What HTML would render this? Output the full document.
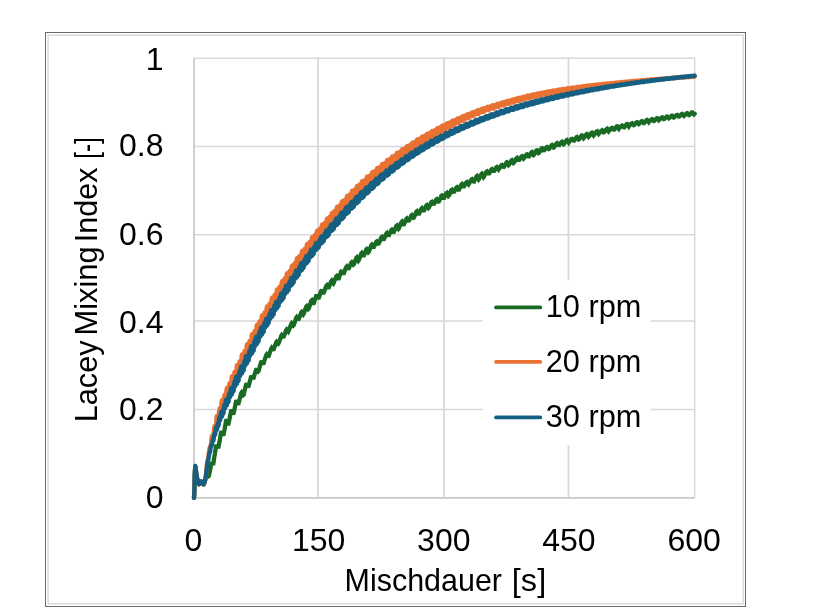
<!DOCTYPE html>
<html lang="de">
<head>
<meta charset="utf-8">
<title>Lacey Mixing Index</title>
<style>
html,body{margin:0;padding:0;background:#fff;}
body{width:835px;height:612px;overflow:hidden;}
svg{display:block;will-change:transform;}
.t{font-family:"Liberation Sans",sans-serif;font-size:32px;fill:#000;}
</style>
</head>
<body>
<svg width="835" height="612" viewBox="0 0 835 612">
<rect x="0" y="0" width="835" height="612" fill="#fff"/>
<rect x="45.5" y="32.5" width="700" height="574" fill="#fff" stroke="#6a6a6a" stroke-width="1"/>
<rect x="48.1" y="35.1" width="695.2" height="568.7" fill="none" stroke="#dcdcdc" stroke-width="1.6"/>
<line x1="318.05" y1="58.3" x2="318.05" y2="497.8" stroke="#D9D9D9" stroke-width="1.8"/>
<line x1="444.05" y1="58.3" x2="444.05" y2="497.8" stroke="#D9D9D9" stroke-width="1.8"/>
<line x1="568.45" y1="58.3" x2="568.45" y2="497.8" stroke="#D9D9D9" stroke-width="1.8"/>
<line x1="194.0" y1="409.60" x2="694.7" y2="409.60" stroke="#D9D9D9" stroke-width="1.5"/>
<line x1="194.0" y1="321.10" x2="694.7" y2="321.10" stroke="#D9D9D9" stroke-width="1.5"/>
<line x1="194.0" y1="234.85" x2="694.7" y2="234.85" stroke="#D9D9D9" stroke-width="1.5"/>
<line x1="194.0" y1="146.40" x2="694.7" y2="146.40" stroke="#D9D9D9" stroke-width="1.5"/>
<path d="M194.0 58.3 H694.7 V497.8" fill="none" stroke="#D9D9D9" stroke-width="1.5"/>
<path d="M194.0 58.3 V497.8 H694.7" fill="none" stroke="#C8C8C8" stroke-width="1.7"/>
<rect x="482.5" y="280.5" width="168" height="164.5" fill="#fff"/>
<path d="M194.0 497.8 L194.4 490.2 L194.8 473.0 L195.3 466.0 L195.7 468.4 L196.1 472.0 L196.5 474.9 L196.9 477.0 L197.3 479.1 L197.8 481.1 L198.2 482.8 L198.6 483.9 L199.0 484.2 L199.4 483.9 L199.8 483.2 L200.3 482.4 L200.7 481.7 L201.1 481.4 L201.5 481.6 L201.9 482.1 L202.3 482.8 L202.8 483.5 L203.2 484.1 L203.6 484.3 L204.0 483.9 L204.4 482.4 L204.8 480.5 L205.3 478.7 L205.7 477.5 L206.1 476.6 L206.5 476.0 L206.9 475.8 L207.4 475.9 L207.8 476.2 L208.2 476.5 L208.6 476.3 L209.0 474.9 L209.4 473.2 L209.9 471.1 L210.3 468.9 L210.7 466.4 L211.1 463.7 L211.5 462.0 L211.9 462.6 L212.4 463.4 L212.8 464.3 L213.2 465.1 L213.6 461.9 L214.0 459.1 L214.4 456.4 L214.9 453.8 L215.3 451.2 L215.7 448.7 L216.1 446.3 L216.5 445.0 L216.9 445.8 L217.4 446.5 L217.8 447.3 L218.2 448.1 L218.6 446.6 L219.0 444.2 L219.5 441.8 L219.9 439.4 L220.3 437.1 L220.7 434.7 L221.1 432.4 L221.5 431.3 L222.0 432.3 L222.4 433.3 L222.8 434.3 L223.2 435.3 L223.6 434.4 L224.0 432.0 L224.5 429.7 L224.9 427.4 L225.3 425.1 L225.7 422.8 L226.1 420.5 L226.5 419.5 L227.0 421.0 L227.4 422.4 L227.8 423.8 L228.2 425.3 L228.6 423.1 L229.0 421.1 L229.5 419.0 L229.9 417.0 L230.3 414.9 L230.7 412.9 L231.1 410.9 L231.6 410.0 L232.0 411.1 L232.4 412.3 L232.8 413.4 L233.2 414.4 L233.6 413.2 L234.1 411.2 L234.5 409.2 L234.9 407.2 L235.3 405.2 L235.7 403.3 L236.1 401.4 L236.6 400.6 L237.0 401.7 L237.4 402.8 L237.8 403.8 L238.2 404.9 L238.6 402.9 L239.1 401.3 L239.5 399.7 L239.9 398.1 L240.3 396.5 L240.7 394.9 L241.1 393.3 L241.6 392.6 L242.0 393.2 L242.4 393.9 L242.8 394.5 L243.2 395.1 L243.7 394.7 L244.1 392.9 L244.5 391.2 L244.9 389.4 L245.3 387.7 L245.7 386.0 L246.2 384.3 L246.6 383.6 L247.0 384.6 L247.4 385.5 L247.8 386.4 L248.2 387.2 L248.7 385.9 L249.1 384.3 L249.5 382.8 L249.9 381.2 L250.3 379.7 L250.7 378.2 L251.2 376.7 L251.6 376.0 L252.0 376.7 L252.4 377.5 L252.8 378.2 L253.2 379.0 L253.7 377.8 L254.1 376.3 L254.5 374.9 L254.9 373.5 L255.3 372.1 L255.8 370.8 L256.2 369.4 L256.6 368.7 L257.0 369.4 L257.4 370.0 L257.8 370.6 L258.3 371.2 L258.7 370.7 L259.1 369.2 L259.5 367.7 L259.9 366.2 L260.3 364.7 L260.8 363.2 L261.2 361.8 L261.6 361.2 L262.0 362.0 L262.4 362.8 L262.8 363.6 L263.3 364.4 L263.7 363.0 L264.1 361.7 L264.5 360.4 L264.9 359.1 L265.3 357.9 L265.8 356.6 L266.2 355.3 L266.6 354.7 L267.0 355.3 L267.4 355.9 L267.9 356.4 L268.3 357.0 L268.7 356.2 L269.1 354.9 L269.5 353.6 L269.9 352.4 L270.4 351.1 L270.8 349.8 L271.2 348.6 L271.6 348.0 L272.0 348.6 L272.4 349.2 L272.9 349.8 L273.3 350.4 L273.7 349.3 L274.1 348.1 L274.5 347.0 L274.9 345.8 L275.4 344.7 L275.8 343.6 L276.2 342.5 L276.6 341.9 L277.0 342.3 L277.5 342.8 L277.9 343.2 L278.3 343.6 L278.7 343.0 L279.1 341.9 L279.5 340.7 L280.0 339.5 L280.4 338.3 L280.8 337.2 L281.2 336.0 L281.6 335.4 L282.0 336.0 L282.5 336.5 L282.9 337.1 L283.3 337.7 L283.7 336.7 L284.1 335.6 L284.5 334.5 L285.0 333.4 L285.4 332.2 L285.8 331.1 L286.2 330.0 L286.6 329.5 L287.0 330.0 L287.5 330.5 L287.9 331.0 L288.3 331.5 L288.7 330.7 L289.1 329.6 L289.6 328.5 L290.0 327.3 L290.4 326.2 L290.8 325.1 L291.2 324.0 L291.6 323.4 L292.1 324.0 L292.5 324.5 L292.9 325.1 L293.3 325.6 L293.7 325.2 L294.1 324.0 L294.6 322.7 L295.0 321.5 L295.4 320.2 L295.8 319.0 L296.2 317.7 L296.6 317.2 L297.1 318.0 L297.5 318.8 L297.9 319.5 L298.3 320.3 L298.7 319.1 L299.1 318.0 L299.6 316.9 L300.0 315.8 L300.4 314.7 L300.8 313.6 L301.2 312.5 L301.7 312.0 L302.1 312.5 L302.5 313.1 L302.9 313.7 L303.3 314.3 L303.7 313.7 L304.2 312.5 L304.6 311.4 L305.0 310.2 L305.4 309.1 L305.8 307.9 L306.2 306.7 L306.7 306.2 L307.1 306.9 L307.5 307.6 L307.9 308.3 L308.3 309.0 L308.7 308.6 L309.2 307.3 L309.6 306.1 L310.0 304.8 L310.4 303.5 L310.8 302.2 L311.2 300.9 L311.7 300.4 L312.1 301.3 L312.5 302.3 L312.9 303.2 L313.3 304.1 L313.8 303.3 L314.2 302.0 L314.6 300.7 L315.0 299.4 L315.4 298.2 L315.8 296.9 L316.3 295.6 L316.7 295.1 L317.1 296.1 L317.5 297.0 L317.9 298.0 L318.3 298.9 L318.8 297.9 L319.2 296.7 L319.6 295.5 L320.0 294.3 L320.4 293.1 L320.8 291.9 L321.3 290.7 L321.7 290.2 L322.1 291.1 L322.5 291.9 L322.9 292.8 L323.3 293.6 L323.8 292.7 L324.2 291.5 L324.6 290.4 L325.0 289.3 L325.4 288.1 L325.9 287.0 L326.3 285.8 L326.7 285.4 L327.1 286.2 L327.5 286.9 L327.9 287.7 L328.4 288.5 L328.8 287.5 L329.2 286.4 L329.6 285.4 L330.0 284.3 L330.4 283.3 L330.9 282.2 L331.3 281.2 L331.7 280.7 L332.1 281.4 L332.5 282.0 L332.9 282.7 L333.4 283.3 L333.8 282.5 L334.2 281.5 L334.6 280.5 L335.0 279.5 L335.4 278.5 L335.9 277.4 L336.3 276.4 L336.7 276.0 L337.1 276.6 L337.5 277.2 L338.0 277.8 L338.4 278.4 L338.8 278.4 L339.2 277.1 L339.6 275.9 L340.0 274.7 L340.5 273.5 L340.9 272.3 L341.3 271.1 L341.7 270.6 L342.1 271.6 L342.5 272.6 L343.0 273.5 L343.4 274.5 L343.8 273.3 L344.2 272.3 L344.6 271.2 L345.0 270.1 L345.5 269.0 L345.9 267.9 L346.3 266.9 L346.7 266.5 L347.1 267.2 L347.5 268.0 L348.0 268.7 L348.4 269.5 L348.8 268.5 L349.2 267.5 L349.6 266.5 L350.1 265.6 L350.5 264.6 L350.9 263.7 L351.3 262.7 L351.7 262.3 L352.1 262.9 L352.6 263.5 L353.0 264.1 L353.4 264.7 L353.8 264.4 L354.2 263.3 L354.6 262.2 L355.1 261.2 L355.5 260.1 L355.9 259.0 L356.3 257.9 L356.7 257.5 L357.1 258.3 L357.6 259.1 L358.0 259.9 L358.4 260.7 L358.8 260.2 L359.2 259.0 L359.6 257.9 L360.1 256.8 L360.5 255.7 L360.9 254.6 L361.3 253.5 L361.7 253.1 L362.2 254.0 L362.6 254.8 L363.0 255.7 L363.4 256.6 L363.8 255.8 L364.2 254.7 L364.7 253.6 L365.1 252.6 L365.5 251.5 L365.9 250.5 L366.3 249.4 L366.7 249.1 L367.2 249.8 L367.6 250.6 L368.0 251.4 L368.4 252.2 L368.8 251.8 L369.2 250.7 L369.7 249.5 L370.1 248.4 L370.5 247.3 L370.9 246.2 L371.3 245.1 L371.7 244.7 L372.2 245.6 L372.6 246.5 L373.0 247.5 L373.4 248.4 L373.8 247.0 L374.3 246.1 L374.7 245.3 L375.1 244.4 L375.5 243.5 L375.9 242.6 L376.3 241.7 L376.8 241.4 L377.2 241.9 L377.6 242.5 L378.0 243.0 L378.4 243.6 L378.8 243.4 L379.3 242.4 L379.7 241.4 L380.1 240.4 L380.5 239.4 L380.9 238.4 L381.3 237.4 L381.8 237.0 L382.2 237.8 L382.6 238.6 L383.0 239.3 L383.4 240.1 L383.8 239.4 L384.3 238.4 L384.7 237.4 L385.1 236.5 L385.5 235.5 L385.9 234.5 L386.4 233.6 L386.8 233.2 L387.2 234.0 L387.6 234.7 L388.0 235.4 L388.4 236.1 L388.9 235.2 L389.3 234.4 L389.7 233.5 L390.1 232.7 L390.5 231.8 L390.9 230.9 L391.4 230.1 L391.8 229.8 L392.2 230.3 L392.6 230.9 L393.0 231.5 L393.4 232.0 L393.9 231.9 L394.3 230.9 L394.7 229.9 L395.1 228.9 L395.5 227.9 L395.9 226.9 L396.4 225.9 L396.8 225.6 L397.2 226.4 L397.6 227.2 L398.0 228.0 L398.5 228.8 L398.9 228.3 L399.3 227.3 L399.7 226.3 L400.1 225.2 L400.5 224.2 L401.0 223.2 L401.4 222.2 L401.8 221.8 L402.2 222.7 L402.6 223.6 L403.0 224.5 L403.5 225.3 L403.9 224.5 L404.3 223.5 L404.7 222.6 L405.1 221.6 L405.5 220.7 L406.0 219.7 L406.4 218.8 L406.8 218.5 L407.2 219.2 L407.6 220.0 L408.0 220.8 L408.5 221.6 L408.9 220.7 L409.3 219.9 L409.7 219.0 L410.1 218.1 L410.6 217.3 L411.0 216.4 L411.4 215.5 L411.8 215.2 L412.2 215.9 L412.6 216.5 L413.1 217.2 L413.5 217.8 L413.9 217.6 L414.3 216.7 L414.7 215.7 L415.1 214.7 L415.6 213.7 L416.0 212.7 L416.4 211.7 L416.8 211.4 L417.2 212.3 L417.6 213.1 L418.1 214.0 L418.5 214.9 L418.9 214.0 L419.3 213.1 L419.7 212.2 L420.1 211.3 L420.6 210.4 L421.0 209.5 L421.4 208.7 L421.8 208.3 L422.2 209.1 L422.7 209.8 L423.1 210.6 L423.5 211.3 L423.9 210.7 L424.3 209.8 L424.7 208.9 L425.2 208.1 L425.6 207.2 L426.0 206.3 L426.4 205.4 L426.8 205.1 L427.2 205.8 L427.7 206.6 L428.1 207.3 L428.5 208.0 L428.9 207.6 L429.3 206.7 L429.7 205.8 L430.2 204.8 L430.6 203.9 L431.0 203.0 L431.4 202.0 L431.8 201.8 L432.2 202.6 L432.7 203.4 L433.1 204.2 L433.5 205.0 L433.9 204.1 L434.3 203.3 L434.8 202.5 L435.2 201.7 L435.6 200.9 L436.0 200.1 L436.4 199.4 L436.8 199.1 L437.3 199.7 L437.7 200.3 L438.1 200.9 L438.5 201.5 L438.9 201.4 L439.3 200.5 L439.8 199.5 L440.2 198.6 L440.6 197.7 L441.0 196.8 L441.4 195.8 L441.8 195.6 L442.3 196.4 L442.7 197.2 L443.1 198.1 L443.5 198.9 L443.9 198.3 L444.4 197.4 L444.8 196.5 L445.2 195.6 L445.6 194.7 L446.0 193.8 L446.4 193.0 L446.9 192.7 L447.3 193.5 L447.7 194.3 L448.1 195.0 L448.5 195.8 L448.9 195.4 L449.4 194.5 L449.8 193.6 L450.2 192.7 L450.6 191.8 L451.0 190.9 L451.4 190.0 L451.9 189.7 L452.3 190.5 L452.7 191.4 L453.1 192.2 L453.5 193.0 L453.9 192.1 L454.4 191.3 L454.8 190.6 L455.2 189.8 L455.6 189.1 L456.0 188.3 L456.5 187.6 L456.9 187.3 L457.3 187.9 L457.7 188.5 L458.1 189.1 L458.5 189.7 L459.0 189.6 L459.4 188.7 L459.8 187.9 L460.2 187.0 L460.6 186.1 L461.0 185.3 L461.5 184.4 L461.9 184.1 L462.3 184.9 L462.7 185.8 L463.1 186.6 L463.5 187.4 L464.0 186.5 L464.4 185.8 L464.8 185.0 L465.2 184.3 L465.6 183.6 L466.0 182.8 L466.5 182.1 L466.9 181.9 L467.3 182.5 L467.7 183.1 L468.1 183.7 L468.6 184.3 L469.0 183.7 L469.4 183.0 L469.8 182.3 L470.2 181.6 L470.6 180.9 L471.1 180.2 L471.5 179.6 L471.9 179.3 L472.3 179.9 L472.7 180.4 L473.1 181.0 L473.6 181.5 L474.0 181.6 L474.4 180.7 L474.8 179.9 L475.2 179.0 L475.6 178.2 L476.1 177.3 L476.5 176.5 L476.9 176.2 L477.3 177.1 L477.7 177.9 L478.1 178.7 L478.6 179.5 L479.0 179.0 L479.4 178.2 L479.8 177.3 L480.2 176.5 L480.7 175.6 L481.1 174.8 L481.5 174.0 L481.9 173.7 L482.3 174.5 L482.7 175.4 L483.2 176.2 L483.6 177.0 L484.0 176.5 L484.4 175.7 L484.8 174.8 L485.2 174.0 L485.7 173.2 L486.1 172.3 L486.5 171.5 L486.9 171.3 L487.3 172.1 L487.7 172.9 L488.2 173.7 L488.6 174.5 L489.0 173.8 L489.4 173.1 L489.8 172.3 L490.2 171.6 L490.7 170.9 L491.1 170.1 L491.5 169.4 L491.9 169.2 L492.3 169.9 L492.8 170.5 L493.2 171.2 L493.6 171.9 L494.0 171.3 L494.4 170.6 L494.8 169.9 L495.3 169.2 L495.7 168.6 L496.1 167.9 L496.5 167.2 L496.9 167.0 L497.3 167.6 L497.8 168.2 L498.2 168.8 L498.6 169.4 L499.0 168.8 L499.4 168.2 L499.8 167.6 L500.3 167.0 L500.7 166.3 L501.1 165.7 L501.5 165.1 L501.9 164.9 L502.3 165.4 L502.8 165.9 L503.2 166.4 L503.6 166.9 L504.0 166.9 L504.4 166.2 L504.9 165.4 L505.3 164.7 L505.7 164.0 L506.1 163.2 L506.5 162.5 L506.9 162.3 L507.4 163.0 L507.8 163.7 L508.2 164.4 L508.6 165.1 L509.0 164.7 L509.4 164.0 L509.9 163.3 L510.3 162.5 L510.7 161.8 L511.1 161.0 L511.5 160.3 L511.9 160.1 L512.4 160.8 L512.8 161.6 L513.2 162.3 L513.6 163.0 L514.0 162.7 L514.4 161.9 L514.9 161.2 L515.3 160.4 L515.7 159.6 L516.1 158.9 L516.5 158.2 L517.0 157.9 L517.4 158.7 L517.8 159.5 L518.2 160.2 L518.6 161.0 L519.0 160.2 L519.5 159.6 L519.9 159.0 L520.3 158.3 L520.7 157.7 L521.1 157.1 L521.5 156.4 L522.0 156.2 L522.4 156.8 L522.8 157.4 L523.2 158.0 L523.6 158.6 L524.0 158.2 L524.5 157.5 L524.9 156.9 L525.3 156.3 L525.7 155.7 L526.1 155.1 L526.5 154.5 L527.0 154.3 L527.4 154.9 L527.8 155.4 L528.2 156.0 L528.6 156.5 L529.1 156.4 L529.5 155.7 L529.9 155.0 L530.3 154.3 L530.7 153.7 L531.1 153.0 L531.6 152.3 L532.0 152.1 L532.4 152.8 L532.8 153.5 L533.2 154.2 L533.6 154.9 L534.1 154.5 L534.5 153.8 L534.9 153.1 L535.3 152.4 L535.7 151.7 L536.1 151.0 L536.6 150.3 L537.0 150.2 L537.4 150.9 L537.8 151.6 L538.2 152.4 L538.6 153.1 L539.1 152.8 L539.5 152.0 L539.9 151.3 L540.3 150.6 L540.7 149.9 L541.2 149.2 L541.6 148.4 L542.0 148.3 L542.4 149.0 L542.8 149.8 L543.2 150.6 L543.7 151.3 L544.1 150.5 L544.5 149.9 L544.9 149.4 L545.3 148.8 L545.7 148.2 L546.2 147.7 L546.6 147.1 L547.0 147.0 L547.4 147.5 L547.8 148.0 L548.2 148.5 L548.7 149.0 L549.1 148.9 L549.5 148.3 L549.9 147.6 L550.3 147.0 L550.7 146.4 L551.2 145.8 L551.6 145.2 L552.0 145.0 L552.4 145.6 L552.8 146.3 L553.3 146.9 L553.7 147.5 L554.1 147.3 L554.5 146.7 L554.9 146.0 L555.3 145.3 L555.8 144.6 L556.2 144.0 L556.6 143.3 L557.0 143.1 L557.4 143.8 L557.8 144.6 L558.3 145.3 L558.7 146.0 L559.1 145.4 L559.5 144.8 L559.9 144.2 L560.3 143.6 L560.8 143.1 L561.2 142.5 L561.6 141.9 L562.0 141.7 L562.4 142.3 L562.8 142.9 L563.3 143.5 L563.7 144.1 L564.1 143.8 L564.5 143.2 L564.9 142.6 L565.4 142.0 L565.8 141.4 L566.2 140.8 L566.6 140.2 L567.0 140.0 L567.4 140.7 L567.9 141.3 L568.3 141.9 L568.7 142.5 L569.1 141.9 L569.5 141.4 L569.9 140.9 L570.4 140.4 L570.8 139.9 L571.2 139.4 L571.6 138.9 L572.0 138.8 L572.4 139.3 L572.9 139.7 L573.3 140.2 L573.7 140.7 L574.1 140.7 L574.5 140.1 L574.9 139.5 L575.4 138.9 L575.8 138.3 L576.2 137.7 L576.6 137.1 L577.0 136.9 L577.5 137.6 L577.9 138.2 L578.3 138.9 L578.7 139.5 L579.1 139.3 L579.5 138.6 L580.0 138.0 L580.4 137.4 L580.8 136.8 L581.2 136.1 L581.6 135.5 L582.0 135.4 L582.5 136.1 L582.9 136.8 L583.3 137.5 L583.7 138.2 L584.1 137.8 L584.5 137.1 L585.0 136.5 L585.4 135.9 L585.8 135.3 L586.2 134.7 L586.6 134.1 L587.0 134.0 L587.5 134.7 L587.9 135.3 L588.3 136.0 L588.7 136.7 L589.1 136.3 L589.6 135.7 L590.0 135.1 L590.4 134.5 L590.8 133.9 L591.2 133.3 L591.6 132.7 L592.1 132.6 L592.5 133.3 L592.9 133.9 L593.3 134.6 L593.7 135.3 L594.1 134.8 L594.6 134.3 L595.0 133.7 L595.4 133.2 L595.8 132.6 L596.2 132.0 L596.6 131.5 L597.1 131.3 L597.5 132.0 L597.9 132.6 L598.3 133.2 L598.7 133.8 L599.1 133.3 L599.6 132.8 L600.0 132.3 L600.4 131.8 L600.8 131.3 L601.2 130.9 L601.7 130.4 L602.1 130.2 L602.5 130.8 L602.9 131.3 L603.3 131.8 L603.7 132.3 L604.2 132.2 L604.6 131.7 L605.0 131.1 L605.4 130.5 L605.8 130.0 L606.2 129.4 L606.7 128.9 L607.1 128.7 L607.5 129.4 L607.9 130.0 L608.3 130.6 L608.7 131.3 L609.2 130.7 L609.6 130.2 L610.0 129.8 L610.4 129.3 L610.8 128.8 L611.2 128.4 L611.7 127.9 L612.1 127.8 L612.5 128.3 L612.9 128.8 L613.3 129.2 L613.8 129.7 L614.2 129.7 L614.6 129.2 L615.0 128.6 L615.4 128.1 L615.8 127.5 L616.3 126.9 L616.7 126.4 L617.1 126.3 L617.5 126.9 L617.9 127.6 L618.3 128.2 L618.8 128.8 L619.2 128.2 L619.6 127.8 L620.0 127.3 L620.4 126.9 L620.8 126.5 L621.3 126.0 L621.7 125.6 L622.1 125.5 L622.5 125.9 L622.9 126.4 L623.4 126.8 L623.8 127.3 L624.2 127.4 L624.6 126.8 L625.0 126.3 L625.4 125.7 L625.9 125.2 L626.3 124.6 L626.7 124.1 L627.1 124.0 L627.5 124.6 L627.9 125.3 L628.4 125.9 L628.8 126.5 L629.2 125.9 L629.6 125.5 L630.0 125.1 L630.4 124.6 L630.9 124.2 L631.3 123.8 L631.7 123.3 L632.1 123.2 L632.5 123.7 L632.9 124.1 L633.4 124.6 L633.8 125.1 L634.2 124.9 L634.6 124.5 L635.0 124.0 L635.5 123.5 L635.9 123.1 L636.3 122.6 L636.7 122.2 L637.1 122.1 L637.5 122.6 L638.0 123.1 L638.4 123.6 L638.8 124.1 L639.2 123.8 L639.6 123.4 L640.0 122.9 L640.5 122.5 L640.9 122.1 L641.3 121.6 L641.7 121.2 L642.1 121.1 L642.5 121.6 L643.0 122.1 L643.4 122.6 L643.8 123.1 L644.2 123.0 L644.6 122.5 L645.0 122.0 L645.5 121.5 L645.9 121.0 L646.3 120.5 L646.7 120.0 L647.1 119.9 L647.6 120.5 L648.0 121.1 L648.4 121.6 L648.8 122.2 L649.2 121.7 L649.6 121.3 L650.1 120.9 L650.5 120.5 L650.9 120.1 L651.3 119.7 L651.7 119.3 L652.1 119.2 L652.6 119.6 L653.0 120.1 L653.4 120.5 L653.8 121.0 L654.2 120.9 L654.6 120.4 L655.1 120.0 L655.5 119.5 L655.9 119.1 L656.3 118.7 L656.7 118.3 L657.1 118.2 L657.6 118.7 L658.0 119.2 L658.4 119.7 L658.8 120.2 L659.2 119.8 L659.7 119.4 L660.1 119.0 L660.5 118.6 L660.9 118.3 L661.3 117.9 L661.7 117.5 L662.2 117.4 L662.6 117.9 L663.0 118.3 L663.4 118.7 L663.8 119.1 L664.2 119.0 L664.7 118.6 L665.1 118.2 L665.5 117.8 L665.9 117.4 L666.3 117.0 L666.7 116.6 L667.2 116.5 L667.6 116.9 L668.0 117.4 L668.4 117.9 L668.8 118.3 L669.2 118.1 L669.7 117.7 L670.1 117.3 L670.5 116.9 L670.9 116.5 L671.3 116.1 L671.8 115.6 L672.2 115.6 L672.6 116.1 L673.0 116.5 L673.4 117.0 L673.8 117.5 L674.3 117.2 L674.7 116.8 L675.1 116.4 L675.5 116.1 L675.9 115.7 L676.3 115.3 L676.8 115.0 L677.2 114.9 L677.6 115.3 L678.0 115.7 L678.4 116.1 L678.8 116.5 L679.3 116.5 L679.7 116.1 L680.1 115.7 L680.5 115.2 L680.9 114.8 L681.3 114.4 L681.8 114.0 L682.2 113.9 L682.6 114.4 L683.0 114.9 L683.4 115.5 L683.9 116.0 L684.3 115.6 L684.7 115.3 L685.1 114.9 L685.5 114.5 L685.9 114.1 L686.4 113.7 L686.8 113.3 L687.2 113.2 L687.6 113.7 L688.0 114.2 L688.4 114.6 L688.9 115.1 L689.3 115.0 L689.7 114.6 L690.1 114.1 L690.5 113.7 L690.9 113.3 L691.4 112.9 L691.8 112.4 L692.2 112.4 L692.6 112.9 L693.0 113.4 L693.4 114.0 L693.9 114.5 L694.3 114.2 L694.7 113.8" fill="none" stroke="#196B24" stroke-width="4.3" stroke-linejoin="miter" stroke-miterlimit="1.9" stroke-linecap="round"/>
<path d="M194.0 497.8 L194.4 490.2 L194.8 473.0 L195.3 466.0 L195.7 468.5 L196.1 472.0 L196.5 474.9 L196.9 477.0 L197.3 479.1 L197.8 481.2 L198.2 482.8 L198.6 483.9 L199.0 484.2 L199.4 483.8 L199.8 483.2 L200.3 482.6 L200.7 482.0 L201.1 481.6 L201.5 481.6 L201.9 482.0 L202.3 482.8 L202.8 483.7 L203.2 484.3 L203.6 484.4 L204.0 483.9 L204.4 482.9 L204.8 481.5 L205.3 479.9 L205.7 477.9 L206.1 474.2 L206.5 468.5 L206.9 463.7 L207.4 461.1 L207.8 459.6 L208.2 457.8 L208.6 454.8 L209.0 451.4 L209.4 448.6 L209.9 447.3 L210.3 446.9 L210.7 445.6 L211.1 442.3 L211.5 438.2 L211.9 436.0 L212.4 436.2 L212.8 437.6 L213.2 437.3 L213.6 433.8 L214.0 429.1 L214.4 426.2 L214.9 426.4 L215.3 428.0 L215.7 427.6 L216.1 423.5 L216.5 418.0 L216.9 415.9 L217.4 417.9 L217.8 421.6 L218.2 422.3 L218.6 417.9 L219.0 411.7 L219.5 408.4 L219.9 409.9 L220.3 413.0 L220.7 413.1 L221.1 408.4 L221.5 402.0 L222.0 400.2 L222.4 403.3 L222.8 408.4 L223.2 409.6 L223.6 404.8 L224.0 398.2 L224.5 394.9 L224.9 396.9 L225.3 400.7 L225.7 401.1 L226.1 396.2 L226.5 389.3 L227.0 387.6 L227.4 391.3 L227.8 397.1 L228.2 398.7 L228.6 393.6 L229.0 386.5 L229.5 383.1 L229.9 385.4 L230.3 389.8 L230.7 390.5 L231.1 385.2 L231.6 377.8 L232.0 376.1 L232.4 380.4 L232.8 386.9 L233.2 388.7 L233.6 383.3 L234.1 375.7 L234.5 372.0 L234.9 374.7 L235.3 379.7 L235.7 380.5 L236.1 374.8 L236.6 366.9 L237.0 365.1 L237.4 369.8 L237.8 376.7 L238.2 378.6 L238.6 373.0 L239.1 365.0 L239.5 361.3 L239.9 364.1 L240.3 369.2 L240.7 370.0 L241.1 364.3 L241.6 356.3 L242.0 354.5 L242.4 359.3 L242.8 366.3 L243.2 368.3 L243.7 362.6 L244.1 354.6 L244.5 350.9 L244.9 353.8 L245.3 358.9 L245.7 359.8 L246.2 354.0 L246.6 346.0 L247.0 344.2 L247.4 349.1 L247.8 356.2 L248.2 358.3 L248.7 352.5 L249.1 344.5 L249.5 340.8 L249.9 343.7 L250.3 348.9 L250.7 349.8 L251.2 344.1 L251.6 336.0 L252.0 334.2 L252.4 339.2 L252.8 346.4 L253.2 348.5 L253.7 342.7 L254.1 334.6 L254.5 331.0 L254.9 333.9 L255.3 339.1 L255.8 340.0 L256.2 334.3 L256.6 326.4 L257.0 324.7 L257.4 329.5 L257.8 336.6 L258.3 338.6 L258.7 333.0 L259.1 325.1 L259.5 321.5 L259.9 324.4 L260.3 329.5 L260.8 330.4 L261.2 324.8 L261.6 317.1 L262.0 315.4 L262.4 320.2 L262.8 327.1 L263.3 329.1 L263.7 323.6 L264.1 315.9 L264.5 312.4 L264.9 315.2 L265.3 320.2 L265.8 321.1 L266.2 315.7 L266.6 308.1 L267.0 306.5 L267.4 311.1 L267.9 317.9 L268.3 319.8 L268.7 314.5 L269.1 307.0 L269.5 303.6 L269.9 306.3 L270.4 311.2 L270.8 312.0 L271.2 306.8 L271.6 299.4 L272.0 297.8 L272.4 302.4 L272.9 308.9 L273.3 310.8 L273.7 305.6 L274.1 298.3 L274.5 295.0 L274.9 297.7 L275.4 302.5 L275.8 303.3 L276.2 298.1 L276.6 291.0 L277.0 289.4 L277.5 293.8 L277.9 300.3 L278.3 302.2 L278.7 297.1 L279.1 289.9 L279.5 286.7 L280.0 289.4 L280.4 294.0 L280.8 294.9 L281.2 289.8 L281.6 282.7 L282.0 281.2 L282.5 285.6 L282.9 292.0 L283.3 293.9 L283.7 288.9 L284.1 281.8 L284.5 278.6 L285.0 281.3 L285.4 285.9 L285.8 286.8 L286.2 281.8 L286.6 274.7 L287.0 273.3 L287.5 277.6 L287.9 284.0 L288.3 285.9 L288.7 280.9 L289.1 273.9 L289.6 270.8 L290.0 273.4 L290.4 278.1 L290.8 278.9 L291.2 274.0 L291.6 267.0 L292.1 265.6 L292.5 269.9 L292.9 276.3 L293.3 278.2 L293.7 273.3 L294.1 266.3 L294.6 263.2 L295.0 265.8 L295.4 270.5 L295.8 271.4 L296.2 266.4 L296.6 259.5 L297.1 258.1 L297.5 262.5 L297.9 268.8 L298.3 270.7 L298.7 265.8 L299.1 259.0 L299.6 255.9 L300.0 258.5 L300.4 263.1 L300.8 264.0 L301.2 259.2 L301.7 252.3 L302.1 251.0 L302.5 255.3 L302.9 261.6 L303.3 263.4 L303.7 258.6 L304.2 251.8 L304.6 248.8 L305.0 251.4 L305.4 256.0 L305.8 256.9 L306.2 252.1 L306.7 245.4 L307.1 244.0 L307.5 248.3 L307.9 254.5 L308.3 256.3 L308.7 251.6 L309.2 244.9 L309.6 241.9 L310.0 244.5 L310.4 249.0 L310.8 249.9 L311.2 245.2 L311.7 238.6 L312.1 237.2 L312.5 241.5 L312.9 247.6 L313.3 249.4 L313.8 244.8 L314.2 238.2 L314.6 235.2 L315.0 237.8 L315.4 242.3 L315.8 243.2 L316.3 238.5 L316.7 232.0 L317.1 230.7 L317.5 234.9 L317.9 241.0 L318.3 242.8 L318.8 238.3 L319.2 231.8 L319.6 228.9 L320.0 231.5 L320.4 235.9 L320.8 236.8 L321.3 232.2 L321.7 225.8 L322.1 224.5 L322.5 228.7 L322.9 234.7 L323.3 236.6 L323.8 232.0 L324.2 225.6 L324.6 222.8 L325.0 225.3 L325.4 229.8 L325.9 230.6 L326.3 226.1 L326.7 219.7 L327.1 218.5 L327.5 222.6 L327.9 228.6 L328.4 230.5 L328.8 226.0 L329.2 219.6 L329.6 216.8 L330.0 219.3 L330.4 223.7 L330.9 224.6 L331.3 220.1 L331.7 213.8 L332.1 212.6 L332.5 216.7 L332.9 222.7 L333.4 224.5 L333.8 220.0 L334.2 213.7 L334.6 210.9 L335.0 213.5 L335.4 217.9 L335.9 218.8 L336.3 214.3 L336.7 208.0 L337.1 206.8 L337.5 210.9 L338.0 216.9 L338.4 218.7 L338.8 214.3 L339.2 208.0 L339.6 205.3 L340.0 207.8 L340.5 212.2 L340.9 213.1 L341.3 208.7 L341.7 202.5 L342.1 201.3 L342.5 205.4 L343.0 211.3 L343.4 213.1 L343.8 208.8 L344.2 202.6 L344.6 199.8 L345.0 202.4 L345.5 206.7 L345.9 207.6 L346.3 203.3 L346.7 197.1 L347.1 195.9 L347.5 200.0 L348.0 205.9 L348.4 207.8 L348.8 203.4 L349.2 197.3 L349.6 194.6 L350.1 197.1 L350.5 201.4 L350.9 202.3 L351.3 198.0 L351.7 192.0 L352.1 190.8 L352.6 194.9 L353.0 200.7 L353.4 202.5 L353.8 198.2 L354.2 192.2 L354.6 189.6 L355.1 192.1 L355.5 196.3 L355.9 197.2 L356.3 193.0 L356.7 187.0 L357.1 185.9 L357.6 189.9 L358.0 195.6 L358.4 197.3 L358.8 193.2 L359.2 187.3 L359.6 184.7 L360.1 187.2 L360.5 191.3 L360.9 192.2 L361.3 188.1 L361.7 182.3 L362.2 181.2 L362.6 185.1 L363.0 190.7 L363.4 192.4 L363.8 188.3 L364.2 182.6 L364.7 180.1 L365.1 182.5 L365.5 186.5 L365.9 187.4 L366.3 183.4 L366.7 177.7 L367.2 176.6 L367.6 180.4 L368.0 185.9 L368.4 187.6 L368.8 183.7 L369.2 178.0 L369.7 175.6 L370.1 177.9 L370.5 181.9 L370.9 182.8 L371.3 178.8 L371.7 173.3 L372.2 172.3 L372.6 176.0 L373.0 181.3 L373.4 183.0 L373.8 179.1 L374.3 173.6 L374.7 171.2 L375.1 173.5 L375.5 177.4 L375.9 178.2 L376.3 174.4 L376.8 169.0 L377.2 168.1 L377.6 171.7 L378.0 176.8 L378.4 178.4 L378.8 174.7 L379.3 169.4 L379.7 167.1 L380.1 169.3 L380.5 173.0 L380.9 173.8 L381.3 170.1 L381.8 165.0 L382.2 164.0 L382.6 167.5 L383.0 172.4 L383.4 174.0 L383.8 170.4 L384.3 165.3 L384.7 163.1 L385.1 165.2 L385.5 168.8 L385.9 169.5 L386.4 166.0 L386.8 161.0 L387.2 160.1 L387.6 163.5 L388.0 168.2 L388.4 169.7 L388.9 166.2 L389.3 161.3 L389.7 159.2 L390.1 161.2 L390.5 164.7 L390.9 165.4 L391.4 162.0 L391.8 157.3 L392.2 156.4 L392.6 159.6 L393.0 164.1 L393.4 165.5 L393.9 162.2 L394.3 157.5 L394.7 155.5 L395.1 157.4 L395.5 160.7 L395.9 161.4 L396.4 158.2 L396.8 153.6 L397.2 152.8 L397.6 155.8 L398.0 160.2 L398.5 161.5 L398.9 158.4 L399.3 153.9 L399.7 151.9 L400.1 153.8 L400.5 156.9 L401.0 157.6 L401.4 154.5 L401.8 150.1 L402.2 149.3 L402.6 152.2 L403.0 156.4 L403.5 157.7 L403.9 154.6 L404.3 150.3 L404.7 148.5 L405.1 150.3 L405.5 153.3 L406.0 153.9 L406.4 150.9 L406.8 146.7 L407.2 145.9 L407.6 148.7 L408.0 152.8 L408.5 154.0 L408.9 151.1 L409.3 146.9 L409.7 145.1 L410.1 146.8 L410.6 149.8 L411.0 150.4 L411.4 147.5 L411.8 143.4 L412.2 142.7 L412.6 145.4 L413.1 149.3 L413.5 150.5 L413.9 147.7 L414.3 143.6 L414.7 141.9 L415.1 143.6 L415.6 146.4 L416.0 147.0 L416.4 144.2 L416.8 140.3 L417.2 139.5 L417.6 142.2 L418.1 146.0 L418.5 147.2 L418.9 144.4 L419.3 140.5 L419.7 138.8 L420.1 140.4 L420.6 143.2 L421.0 143.8 L421.4 141.1 L421.8 137.2 L422.2 136.5 L422.7 139.1 L423.1 142.8 L423.5 143.9 L423.9 141.2 L424.3 137.5 L424.7 135.8 L425.2 137.4 L425.6 140.1 L426.0 140.6 L426.4 138.0 L426.8 134.3 L427.2 133.7 L427.7 136.1 L428.1 139.7 L428.5 140.7 L428.9 138.2 L429.3 134.5 L429.7 133.0 L430.2 134.5 L430.6 137.0 L431.0 137.5 L431.4 135.0 L431.8 131.5 L432.2 130.9 L432.7 133.2 L433.1 136.5 L433.5 137.5 L433.9 135.1 L434.3 131.7 L434.8 130.2 L435.2 131.6 L435.6 133.9 L436.0 134.4 L436.4 132.1 L436.8 128.8 L437.3 128.2 L437.7 130.4 L438.1 133.4 L438.5 134.3 L438.9 132.1 L439.3 128.9 L439.8 127.5 L440.2 128.8 L440.6 131.0 L441.0 131.4 L441.4 129.3 L441.8 126.2 L442.3 125.6 L442.7 127.6 L443.1 130.5 L443.5 131.3 L443.9 129.2 L444.4 126.3 L444.8 125.0 L445.2 126.2 L445.6 128.2 L446.0 128.6 L446.4 126.6 L446.9 123.7 L447.3 123.2 L447.7 125.0 L448.1 127.7 L448.5 128.5 L448.9 126.5 L449.4 123.7 L449.8 122.5 L450.2 123.6 L450.6 125.5 L451.0 125.9 L451.4 124.0 L451.9 121.3 L452.3 120.8 L452.7 122.5 L453.1 125.0 L453.5 125.8 L453.9 123.9 L454.4 121.3 L454.8 120.2 L455.2 121.2 L455.6 123.0 L456.0 123.3 L456.5 121.5 L456.9 119.0 L457.3 118.5 L457.7 120.2 L458.1 122.5 L458.5 123.2 L459.0 121.4 L459.4 119.0 L459.8 117.9 L460.2 118.9 L460.6 120.6 L461.0 120.9 L461.5 119.2 L461.9 116.8 L462.3 116.4 L462.7 117.9 L463.1 120.1 L463.5 120.7 L464.0 119.1 L464.4 116.8 L464.8 115.8 L465.2 116.7 L465.6 118.2 L466.0 118.5 L466.5 117.0 L466.9 114.8 L467.3 114.3 L467.7 115.7 L468.1 117.7 L468.6 118.3 L469.0 116.8 L469.4 114.7 L469.8 113.7 L470.2 114.6 L470.6 116.0 L471.1 116.3 L471.5 114.8 L471.9 112.7 L472.3 112.3 L472.7 113.6 L473.1 115.5 L473.6 116.0 L474.0 114.6 L474.4 112.6 L474.8 111.8 L475.2 112.5 L475.6 113.8 L476.1 114.1 L476.5 112.7 L476.9 110.8 L477.3 110.4 L477.7 111.6 L478.1 113.4 L478.6 113.9 L479.0 112.5 L479.4 110.7 L479.8 109.9 L480.2 110.6 L480.7 111.8 L481.1 112.1 L481.5 110.8 L481.9 109.0 L482.3 108.6 L482.7 109.8 L483.2 111.5 L483.6 112.0 L484.0 110.7 L484.4 108.9 L484.8 108.1 L485.2 108.8 L485.7 110.0 L486.1 110.3 L486.5 109.0 L486.9 107.3 L487.3 106.9 L487.7 108.1 L488.2 109.7 L488.6 110.2 L489.0 109.0 L489.4 107.2 L489.8 106.5 L490.2 107.2 L490.7 108.4 L491.1 108.6 L491.5 107.4 L491.9 105.7 L492.3 105.3 L492.8 106.5 L493.2 108.1 L493.6 108.6 L494.0 107.4 L494.4 105.7 L494.8 104.9 L495.3 105.6 L495.7 106.8 L496.1 107.0 L496.5 105.8 L496.9 104.1 L497.3 103.8 L497.8 104.9 L498.2 106.5 L498.6 107.0 L499.0 105.8 L499.4 104.1 L499.8 103.4 L500.3 104.1 L500.7 105.2 L501.1 105.5 L501.5 104.3 L501.9 102.6 L502.3 102.3 L502.8 103.4 L503.2 105.0 L503.6 105.5 L504.0 104.3 L504.4 102.6 L504.9 101.9 L505.3 102.6 L505.7 103.7 L506.1 104.0 L506.5 102.8 L506.9 101.2 L507.4 100.9 L507.8 101.9 L508.2 103.5 L508.6 104.0 L509.0 102.8 L509.4 101.2 L509.9 100.5 L510.3 101.1 L510.7 102.3 L511.1 102.5 L511.5 101.4 L511.9 99.8 L512.4 99.5 L512.8 100.5 L513.2 102.1 L513.6 102.6 L514.0 101.4 L514.4 99.8 L514.9 99.1 L515.3 99.8 L515.7 100.9 L516.1 101.1 L516.5 100.0 L517.0 98.4 L517.4 98.1 L517.8 99.2 L518.2 100.7 L518.6 101.2 L519.0 100.1 L519.5 98.5 L519.9 97.8 L520.3 98.5 L520.7 99.6 L521.1 99.8 L521.5 98.7 L522.0 97.2 L522.4 96.9 L522.8 97.9 L523.2 99.4 L523.6 99.9 L524.0 98.8 L524.5 97.2 L524.9 96.6 L525.3 97.2 L525.7 98.3 L526.1 98.5 L526.5 97.5 L527.0 95.9 L527.4 95.6 L527.8 96.7 L528.2 98.2 L528.6 98.6 L529.1 97.6 L529.5 96.0 L529.9 95.4 L530.3 96.0 L530.7 97.1 L531.1 97.3 L531.6 96.3 L532.0 94.8 L532.4 94.5 L532.8 95.5 L533.2 97.0 L533.6 97.4 L534.1 96.4 L534.5 94.9 L534.9 94.2 L535.3 94.9 L535.7 96.0 L536.1 96.2 L536.6 95.1 L537.0 93.7 L537.4 93.4 L537.8 94.4 L538.2 95.8 L538.6 96.3 L539.1 95.3 L539.5 93.8 L539.9 93.2 L540.3 93.8 L540.7 94.9 L541.2 95.1 L541.6 94.1 L542.0 92.7 L542.4 92.4 L542.8 93.4 L543.2 94.8 L543.7 95.2 L544.1 94.2 L544.5 92.8 L544.9 92.2 L545.3 92.8 L545.7 93.8 L546.2 94.0 L546.6 93.1 L547.0 91.7 L547.4 91.5 L547.8 92.4 L548.2 93.7 L548.7 94.1 L549.1 93.2 L549.5 91.9 L549.9 91.3 L550.3 91.9 L550.7 92.8 L551.2 93.0 L551.6 92.1 L552.0 90.8 L552.4 90.6 L552.8 91.5 L553.3 92.7 L553.7 93.1 L554.1 92.3 L554.5 91.0 L554.9 90.5 L555.3 91.0 L555.8 91.9 L556.2 92.1 L556.6 91.2 L557.0 90.0 L557.4 89.8 L557.8 90.6 L558.3 91.8 L558.7 92.2 L559.1 91.3 L559.5 90.2 L559.9 89.6 L560.3 90.2 L560.8 91.0 L561.2 91.2 L561.6 90.4 L562.0 89.2 L562.4 89.0 L562.8 89.8 L563.3 90.9 L563.7 91.3 L564.1 90.5 L564.5 89.3 L564.9 88.9 L565.4 89.3 L565.8 90.2 L566.2 90.3 L566.6 89.6 L567.0 88.5 L567.4 88.3 L567.9 89.0 L568.3 90.1 L568.7 90.4 L569.1 89.6 L569.5 88.6 L569.9 88.1 L570.4 88.6 L570.8 89.3 L571.2 89.5 L571.6 88.8 L572.0 87.7 L572.4 87.5 L572.9 88.2 L573.3 89.3 L573.7 89.6 L574.1 88.9 L574.5 87.8 L574.9 87.4 L575.4 87.8 L575.8 88.6 L576.2 88.7 L576.6 88.0 L577.0 87.0 L577.5 86.8 L577.9 87.5 L578.3 88.5 L578.7 88.8 L579.1 88.1 L579.5 87.1 L580.0 86.7 L580.4 87.1 L580.8 87.8 L581.2 88.0 L581.6 87.3 L582.0 86.3 L582.5 86.2 L582.9 86.8 L583.3 87.7 L583.7 88.0 L584.1 87.4 L584.5 86.4 L585.0 86.0 L585.4 86.4 L585.8 87.1 L586.2 87.2 L586.6 86.6 L587.0 85.7 L587.5 85.5 L587.9 86.2 L588.3 87.0 L588.7 87.3 L589.1 86.7 L589.6 85.8 L590.0 85.4 L590.4 85.8 L590.8 86.4 L591.2 86.5 L591.6 85.9 L592.1 85.1 L592.5 84.9 L592.9 85.5 L593.3 86.3 L593.7 86.6 L594.1 86.0 L594.6 85.2 L595.0 84.8 L595.4 85.2 L595.8 85.8 L596.2 85.9 L596.6 85.3 L597.1 84.5 L597.5 84.4 L597.9 84.9 L598.3 85.7 L598.7 85.9 L599.1 85.4 L599.6 84.6 L600.0 84.2 L600.4 84.6 L600.8 85.1 L601.2 85.2 L601.7 84.7 L602.1 84.0 L602.5 83.8 L602.9 84.3 L603.3 85.0 L603.7 85.3 L604.2 84.7 L604.6 84.0 L605.0 83.7 L605.4 84.0 L605.8 84.5 L606.2 84.6 L606.7 84.1 L607.1 83.4 L607.5 83.3 L607.9 83.8 L608.3 84.4 L608.7 84.6 L609.2 84.2 L609.6 83.5 L610.0 83.2 L610.4 83.5 L610.8 83.9 L611.2 84.0 L611.7 83.6 L612.1 82.9 L612.5 82.8 L612.9 83.2 L613.3 83.8 L613.8 84.0 L614.2 83.6 L614.6 82.9 L615.0 82.7 L615.4 82.9 L615.8 83.4 L616.3 83.5 L616.7 83.0 L617.1 82.4 L617.5 82.3 L617.9 82.7 L618.3 83.3 L618.8 83.4 L619.2 83.0 L619.6 82.4 L620.0 82.2 L620.4 82.4 L620.8 82.8 L621.3 82.9 L621.7 82.5 L622.1 81.9 L622.5 81.8 L622.9 82.2 L623.4 82.7 L623.8 82.9 L624.2 82.5 L624.6 81.9 L625.0 81.7 L625.4 81.9 L625.9 82.3 L626.3 82.4 L626.7 82.0 L627.1 81.5 L627.5 81.4 L627.9 81.7 L628.4 82.2 L628.8 82.3 L629.2 82.0 L629.6 81.5 L630.0 81.2 L630.4 81.4 L630.9 81.8 L631.3 81.9 L631.7 81.5 L632.1 81.0 L632.5 80.9 L632.9 81.2 L633.4 81.7 L633.8 81.8 L634.2 81.5 L634.6 81.0 L635.0 80.8 L635.5 81.0 L635.9 81.3 L636.3 81.4 L636.7 81.0 L637.1 80.6 L637.5 80.5 L638.0 80.8 L638.4 81.2 L638.8 81.4 L639.2 81.0 L639.6 80.5 L640.0 80.3 L640.5 80.5 L640.9 80.9 L641.3 80.9 L641.7 80.6 L642.1 80.1 L642.5 80.0 L643.0 80.3 L643.4 80.8 L643.8 80.9 L644.2 80.6 L644.6 80.1 L645.0 79.9 L645.5 80.1 L645.9 80.4 L646.3 80.5 L646.7 80.1 L647.1 79.7 L647.6 79.6 L648.0 79.9 L648.4 80.3 L648.8 80.5 L649.2 80.1 L649.6 79.7 L650.1 79.5 L650.5 79.7 L650.9 80.0 L651.3 80.0 L651.7 79.7 L652.1 79.3 L652.6 79.2 L653.0 79.5 L653.4 79.9 L653.8 80.0 L654.2 79.7 L654.6 79.3 L655.1 79.1 L655.5 79.3 L655.9 79.6 L656.3 79.6 L656.7 79.3 L657.1 78.9 L657.6 78.8 L658.0 79.1 L658.4 79.5 L658.8 79.6 L659.2 79.3 L659.7 78.9 L660.1 78.7 L660.5 78.9 L660.9 79.1 L661.3 79.2 L661.7 78.9 L662.2 78.5 L662.6 78.4 L663.0 78.7 L663.4 79.1 L663.8 79.2 L664.2 78.9 L664.7 78.5 L665.1 78.3 L665.5 78.5 L665.9 78.7 L666.3 78.8 L666.7 78.5 L667.2 78.1 L667.6 78.0 L668.0 78.3 L668.4 78.7 L668.8 78.8 L669.2 78.5 L669.7 78.1 L670.1 77.9 L670.5 78.1 L670.9 78.4 L671.3 78.4 L671.8 78.1 L672.2 77.7 L672.6 77.7 L673.0 77.9 L673.4 78.3 L673.8 78.4 L674.3 78.1 L674.7 77.7 L675.1 77.6 L675.5 77.7 L675.9 78.0 L676.3 78.0 L676.8 77.8 L677.2 77.4 L677.6 77.3 L678.0 77.6 L678.4 77.9 L678.8 78.0 L679.3 77.7 L679.7 77.4 L680.1 77.2 L680.5 77.4 L680.9 77.6 L681.3 77.7 L681.8 77.4 L682.2 77.0 L682.6 77.0 L683.0 77.2 L683.4 77.5 L683.9 77.6 L684.3 77.4 L684.7 77.0 L685.1 76.9 L685.5 77.0 L685.9 77.3 L686.4 77.3 L686.8 77.0 L687.2 76.7 L687.6 76.6 L688.0 76.9 L688.4 77.2 L688.9 77.3 L689.3 77.0 L689.7 76.7 L690.1 76.5 L690.5 76.7 L690.9 76.9 L691.4 77.0 L691.8 76.7 L692.2 76.4 L692.6 76.3 L693.0 76.5 L693.4 76.8 L693.9 76.9 L694.3 76.7 L694.7 76.4" fill="none" stroke="#E97132" stroke-width="4.3" stroke-linejoin="round" stroke-miterlimit="1.9" stroke-linecap="round"/>
<path d="M194.0 497.8 L194.4 490.2 L194.8 473.0 L195.3 466.0 L195.7 468.4 L196.1 472.0 L196.5 475.0 L196.9 477.1 L197.3 479.1 L197.8 481.0 L198.2 482.7 L198.6 483.8 L199.0 484.1 L199.4 483.8 L199.8 483.3 L200.3 482.5 L200.7 481.7 L201.1 481.4 L201.5 481.8 L201.9 482.3 L202.3 482.7 L202.8 483.4 L203.2 484.0 L203.6 484.3 L204.0 483.8 L204.4 482.8 L204.8 481.5 L205.3 479.7 L205.7 477.4 L206.1 474.3 L206.5 470.7 L206.9 467.1 L207.4 463.9 L207.8 461.4 L208.2 460.1 L208.6 458.2 L209.0 455.0 L209.4 452.9 L209.9 452.5 L210.3 450.8 L210.7 447.2 L211.1 445.3 L211.5 446.1 L211.9 445.1 L212.4 441.7 L212.8 440.0 L213.2 441.1 L213.6 439.8 L214.0 435.4 L214.4 433.6 L214.9 435.2 L215.3 434.0 L215.7 429.0 L216.1 427.2 L216.5 430.1 L216.9 429.7 L217.4 425.0 L217.8 423.4 L218.2 426.1 L218.6 425.1 L219.0 419.1 L219.5 417.3 L219.9 420.6 L220.3 419.6 L220.7 413.5 L221.1 411.9 L221.5 416.4 L222.0 416.5 L222.4 411.3 L222.8 410.0 L223.2 413.7 L223.6 412.8 L224.0 406.4 L224.5 404.7 L224.9 408.5 L225.3 407.7 L225.7 401.2 L226.1 399.6 L226.5 404.8 L227.0 405.1 L227.4 399.5 L227.8 398.2 L228.2 402.4 L228.6 401.6 L229.0 394.7 L229.5 393.0 L229.9 397.4 L230.3 396.6 L230.7 389.5 L231.1 388.0 L231.6 393.8 L232.0 394.3 L232.4 388.2 L232.8 386.9 L233.2 391.7 L233.6 391.0 L234.1 383.6 L234.5 381.8 L234.9 386.7 L235.3 386.0 L235.7 378.4 L236.1 376.8 L236.6 383.2 L237.0 383.8 L237.4 377.5 L237.8 376.2 L238.2 381.3 L238.6 380.5 L239.1 372.9 L239.5 371.1 L239.9 376.2 L240.3 375.5 L240.7 367.8 L241.1 366.3 L241.6 372.8 L242.0 373.4 L242.4 367.0 L242.8 365.7 L243.2 370.9 L243.7 370.2 L244.1 362.5 L244.5 360.7 L244.9 366.0 L245.3 365.3 L245.7 357.5 L246.2 356.0 L246.6 362.6 L247.0 363.3 L247.4 356.9 L247.8 355.6 L248.2 360.9 L248.7 360.3 L249.1 352.5 L249.5 350.7 L249.9 356.0 L250.3 355.4 L250.7 347.6 L251.2 346.1 L251.6 352.8 L252.0 353.5 L252.4 347.1 L252.8 345.8 L253.2 351.2 L253.7 350.6 L254.1 342.8 L254.5 341.0 L254.9 346.4 L255.3 345.7 L255.8 338.0 L256.2 336.6 L256.6 343.2 L257.0 343.9 L257.4 337.6 L257.8 336.4 L258.3 341.7 L258.7 341.0 L259.1 333.5 L259.5 331.8 L259.9 337.0 L260.3 336.4 L260.8 328.8 L261.2 327.4 L261.6 333.9 L262.0 334.6 L262.4 328.4 L262.8 327.3 L263.3 332.4 L263.7 331.8 L264.1 324.4 L264.5 322.8 L264.9 327.9 L265.3 327.3 L265.8 320.0 L266.2 318.6 L266.6 324.9 L267.0 325.6 L267.4 319.6 L267.9 318.5 L268.3 323.5 L268.7 322.9 L269.1 315.7 L269.5 314.1 L269.9 319.1 L270.4 318.5 L270.8 311.3 L271.2 310.0 L271.6 316.2 L272.0 316.8 L272.4 311.0 L272.9 309.9 L273.3 314.8 L273.7 314.2 L274.1 307.2 L274.5 305.6 L274.9 310.5 L275.4 309.9 L275.8 303.0 L276.2 301.7 L276.6 307.7 L277.0 308.3 L277.5 302.6 L277.9 301.6 L278.3 306.4 L278.7 305.8 L279.1 299.0 L279.5 297.4 L280.0 302.2 L280.4 301.7 L280.8 294.8 L281.2 293.5 L281.6 299.5 L282.0 300.2 L282.5 294.5 L282.9 293.5 L283.3 298.3 L283.7 297.7 L284.1 290.9 L284.5 289.4 L285.0 294.2 L285.4 293.7 L285.8 286.9 L286.2 285.6 L286.6 291.6 L287.0 292.2 L287.5 286.6 L287.9 285.6 L288.3 290.4 L288.7 289.9 L289.1 283.1 L289.6 281.6 L290.0 286.4 L290.4 285.9 L290.8 279.2 L291.2 277.9 L291.6 283.9 L292.1 284.5 L292.5 279.0 L292.9 278.0 L293.3 282.8 L293.7 282.3 L294.1 275.6 L294.6 274.1 L295.0 278.9 L295.4 278.4 L295.8 271.7 L296.2 270.5 L296.6 276.4 L297.1 277.1 L297.5 271.6 L297.9 270.6 L298.3 275.4 L298.7 274.9 L299.1 268.3 L299.6 266.8 L300.0 271.6 L300.4 271.1 L300.8 264.5 L301.2 263.3 L301.7 269.2 L302.1 269.9 L302.5 264.5 L302.9 263.5 L303.3 268.2 L303.7 267.7 L304.2 261.2 L304.6 259.8 L305.0 264.4 L305.4 264.0 L305.8 257.5 L306.2 256.3 L306.7 262.1 L307.1 262.8 L307.5 257.5 L307.9 256.5 L308.3 261.2 L308.7 260.7 L309.2 254.3 L309.6 252.9 L310.0 257.5 L310.4 257.0 L310.8 250.6 L311.2 249.5 L311.7 255.2 L312.1 255.9 L312.5 250.6 L312.9 249.7 L313.3 254.3 L313.8 253.9 L314.2 247.5 L314.6 246.2 L315.0 250.7 L315.4 250.3 L315.8 244.0 L316.3 242.9 L316.7 248.5 L317.1 249.2 L317.5 244.1 L317.9 243.2 L318.3 247.7 L318.8 247.3 L319.2 241.1 L319.6 239.8 L320.0 244.3 L320.4 243.9 L320.8 237.7 L321.3 236.6 L321.7 242.2 L322.1 242.9 L322.5 237.8 L322.9 236.9 L323.3 241.5 L323.8 241.1 L324.2 234.9 L324.6 233.6 L325.0 238.1 L325.4 237.7 L325.9 231.5 L326.3 230.4 L326.7 236.0 L327.1 236.7 L327.5 231.7 L327.9 230.8 L328.4 235.3 L328.8 234.9 L329.2 228.8 L329.6 227.5 L330.0 231.9 L330.4 231.6 L330.9 225.4 L331.3 224.4 L331.7 229.9 L332.1 230.7 L332.5 225.6 L332.9 224.8 L333.4 229.3 L333.8 228.9 L334.2 222.8 L334.6 221.5 L335.0 226.0 L335.4 225.6 L335.9 219.5 L336.3 218.5 L336.7 224.0 L337.1 224.8 L337.5 219.8 L338.0 219.0 L338.4 223.4 L338.8 223.1 L339.2 217.0 L339.6 215.8 L340.0 220.2 L340.5 219.9 L340.9 213.8 L341.3 212.8 L341.7 218.3 L342.1 219.1 L342.5 214.1 L343.0 213.3 L343.4 217.8 L343.8 217.4 L344.2 211.4 L344.6 210.2 L345.0 214.6 L345.5 214.3 L345.9 208.3 L346.3 207.3 L346.7 212.8 L347.1 213.6 L347.5 208.7 L348.0 207.9 L348.4 212.3 L348.8 212.0 L349.2 206.1 L349.6 204.9 L350.1 209.3 L350.5 209.0 L350.9 203.1 L351.3 202.1 L351.7 207.5 L352.1 208.3 L352.6 203.5 L353.0 202.7 L353.4 207.0 L353.8 206.7 L354.2 200.9 L354.6 199.7 L355.1 204.1 L355.5 203.8 L355.9 198.0 L356.3 197.0 L356.7 202.4 L357.1 203.1 L357.6 198.4 L358.0 197.7 L358.4 201.9 L358.8 201.6 L359.2 195.9 L359.6 194.8 L360.1 199.0 L360.5 198.7 L360.9 193.1 L361.3 192.2 L361.7 197.4 L362.2 198.1 L362.6 193.5 L363.0 192.8 L363.4 197.0 L363.8 196.7 L364.2 191.1 L364.7 190.0 L365.1 194.2 L365.5 193.9 L365.9 188.4 L366.3 187.5 L366.7 192.6 L367.2 193.3 L367.6 188.8 L368.0 188.1 L368.4 192.2 L368.8 191.9 L369.2 186.5 L369.7 185.4 L370.1 189.5 L370.5 189.2 L370.9 183.8 L371.3 183.0 L371.7 188.0 L372.2 188.7 L372.6 184.3 L373.0 183.6 L373.4 187.6 L373.8 187.4 L374.3 182.1 L374.7 181.0 L375.1 185.0 L375.5 184.7 L375.9 179.5 L376.3 178.7 L376.8 183.5 L377.2 184.2 L377.6 179.9 L378.0 179.3 L378.4 183.2 L378.8 182.9 L379.3 177.8 L379.7 176.8 L380.1 180.6 L380.5 180.4 L380.9 175.3 L381.3 174.5 L381.8 179.2 L382.2 179.8 L382.6 175.7 L383.0 175.1 L383.4 178.8 L383.8 178.6 L384.3 173.7 L384.7 172.7 L385.1 176.4 L385.5 176.1 L385.9 171.3 L386.4 170.5 L386.8 175.0 L387.2 175.6 L387.6 171.7 L388.0 171.1 L388.4 174.7 L388.9 174.4 L389.3 169.7 L389.7 168.8 L390.1 172.3 L390.5 172.1 L390.9 167.4 L391.4 166.7 L391.8 171.0 L392.2 171.6 L392.6 167.8 L393.0 167.2 L393.4 170.7 L393.9 170.4 L394.3 165.9 L394.7 165.0 L395.1 168.4 L395.5 168.2 L395.9 163.7 L396.4 163.0 L396.8 167.1 L397.2 167.7 L397.6 164.1 L398.0 163.5 L398.5 166.8 L398.9 166.6 L399.3 162.3 L399.7 161.4 L400.1 164.6 L400.5 164.4 L401.0 160.1 L401.4 159.5 L401.8 163.4 L402.2 163.9 L402.6 160.5 L403.0 160.0 L403.5 163.1 L403.9 162.9 L404.3 158.7 L404.7 157.9 L405.1 161.0 L405.5 160.8 L406.0 156.7 L406.4 156.0 L406.8 159.8 L407.2 160.3 L407.6 157.0 L408.0 156.5 L408.5 159.5 L408.9 159.3 L409.3 155.3 L409.7 154.5 L410.1 157.5 L410.6 157.3 L411.0 153.3 L411.4 152.7 L411.8 156.4 L412.2 156.9 L412.6 153.7 L413.1 153.2 L413.5 156.1 L413.9 155.9 L414.3 152.0 L414.7 151.3 L415.1 154.2 L415.6 154.0 L416.0 150.1 L416.4 149.5 L416.8 153.1 L417.2 153.6 L417.6 150.5 L418.1 150.0 L418.5 152.8 L418.9 152.7 L419.3 148.9 L419.7 148.2 L420.1 151.0 L420.6 150.8 L421.0 147.1 L421.4 146.5 L421.8 149.9 L422.2 150.4 L422.7 147.4 L423.1 146.9 L423.5 149.7 L423.9 149.5 L424.3 145.9 L424.7 145.2 L425.2 147.9 L425.6 147.7 L426.0 144.1 L426.4 143.6 L426.8 146.9 L427.2 147.4 L427.7 144.5 L428.1 144.0 L428.5 146.7 L428.9 146.5 L429.3 143.0 L429.7 142.3 L430.2 144.9 L430.6 144.8 L431.0 141.3 L431.4 140.8 L431.8 144.0 L432.2 144.4 L432.7 141.6 L433.1 141.2 L433.5 143.8 L433.9 143.6 L434.3 140.2 L434.8 139.6 L435.2 142.1 L435.6 141.9 L436.0 138.6 L436.4 138.1 L436.8 141.2 L437.3 141.6 L437.7 138.9 L438.1 138.5 L438.5 141.0 L438.9 140.8 L439.3 137.5 L439.8 136.9 L440.2 139.3 L440.6 139.2 L441.0 136.0 L441.4 135.5 L441.8 138.4 L442.3 138.9 L442.7 136.3 L443.1 135.9 L443.5 138.2 L443.9 138.1 L444.4 135.0 L444.8 134.3 L445.2 136.7 L445.6 136.5 L446.0 133.4 L446.4 132.9 L446.9 135.8 L447.3 136.2 L447.7 133.7 L448.1 133.3 L448.5 135.7 L448.9 135.5 L449.4 132.5 L449.8 131.9 L450.2 134.2 L450.6 134.0 L451.0 131.0 L451.4 130.5 L451.9 133.3 L452.3 133.7 L452.7 131.3 L453.1 130.9 L453.5 133.2 L453.9 133.0 L454.4 130.1 L454.8 129.5 L455.2 131.7 L455.6 131.6 L456.0 128.7 L456.5 128.2 L456.9 130.9 L457.3 131.3 L457.7 129.0 L458.1 128.6 L458.5 130.8 L459.0 130.7 L459.4 127.8 L459.8 127.2 L460.2 129.4 L460.6 129.3 L461.0 126.4 L461.5 126.0 L461.9 128.6 L462.3 129.0 L462.7 126.7 L463.1 126.4 L463.5 128.5 L464.0 128.4 L464.4 125.6 L464.8 125.0 L465.2 127.1 L465.6 127.0 L466.0 124.3 L466.5 123.8 L466.9 126.4 L467.3 126.8 L467.7 124.6 L468.1 124.2 L468.6 126.3 L469.0 126.2 L469.4 123.5 L469.8 122.9 L470.2 125.0 L470.6 124.9 L471.1 122.2 L471.5 121.8 L471.9 124.3 L472.3 124.6 L472.7 122.5 L473.1 122.1 L473.6 124.2 L474.0 124.0 L474.4 121.4 L474.8 120.9 L475.2 122.9 L475.6 122.8 L476.1 120.2 L476.5 119.8 L476.9 122.2 L477.3 122.6 L477.7 120.5 L478.1 120.1 L478.6 122.1 L479.0 122.0 L479.4 119.4 L479.8 118.9 L480.2 120.9 L480.7 120.8 L481.1 118.2 L481.5 117.9 L481.9 120.2 L482.3 120.5 L482.7 118.5 L483.2 118.2 L483.6 120.1 L484.0 120.0 L484.4 117.5 L484.8 117.1 L485.2 118.9 L485.7 118.8 L486.1 116.4 L486.5 116.0 L486.9 118.3 L487.3 118.6 L487.7 116.6 L488.2 116.4 L488.6 118.2 L489.0 118.1 L489.4 115.7 L489.8 115.2 L490.2 117.1 L490.7 116.9 L491.1 114.6 L491.5 114.2 L491.9 116.4 L492.3 116.8 L492.8 114.8 L493.2 114.6 L493.6 116.4 L494.0 116.3 L494.4 113.9 L494.8 113.5 L495.3 115.3 L495.7 115.2 L496.1 112.8 L496.5 112.4 L496.9 114.7 L497.3 115.0 L497.8 113.1 L498.2 112.8 L498.6 114.6 L499.0 114.5 L499.4 112.2 L499.8 111.7 L500.3 113.5 L500.7 113.4 L501.1 111.1 L501.5 110.8 L501.9 113.0 L502.3 113.3 L502.8 111.4 L503.2 111.1 L503.6 112.9 L504.0 112.8 L504.4 110.5 L504.9 110.1 L505.3 111.8 L505.7 111.8 L506.1 109.5 L506.5 109.1 L506.9 111.3 L507.4 111.6 L507.8 109.8 L508.2 109.5 L508.6 111.3 L509.0 111.2 L509.4 108.9 L509.9 108.5 L510.3 110.2 L510.7 110.2 L511.1 107.9 L511.5 107.6 L511.9 109.7 L512.4 110.0 L512.8 108.2 L513.2 108.0 L513.6 109.7 L514.0 109.6 L514.4 107.4 L514.9 107.0 L515.3 108.7 L515.7 108.6 L516.1 106.4 L516.5 106.1 L517.0 108.2 L517.4 108.5 L517.8 106.7 L518.2 106.5 L518.6 108.1 L519.0 108.1 L519.5 105.9 L519.9 105.5 L520.3 107.2 L520.7 107.1 L521.1 104.9 L521.5 104.6 L522.0 106.7 L522.4 107.0 L522.8 105.2 L523.2 105.0 L523.6 106.7 L524.0 106.6 L524.5 104.5 L524.9 104.1 L525.3 105.7 L525.7 105.6 L526.1 103.5 L526.5 103.2 L527.0 105.2 L527.4 105.6 L527.8 103.8 L528.2 103.6 L528.6 105.2 L529.1 105.2 L529.5 103.1 L529.9 102.7 L530.3 104.3 L530.7 104.2 L531.1 102.2 L531.6 101.8 L532.0 103.9 L532.4 104.2 L532.8 102.5 L533.2 102.2 L533.6 103.9 L534.1 103.8 L534.5 101.7 L534.9 101.3 L535.3 103.0 L535.7 102.9 L536.1 100.8 L536.6 100.5 L537.0 102.5 L537.4 102.8 L537.8 101.2 L538.2 100.9 L538.6 102.5 L539.1 102.4 L539.5 100.4 L539.9 100.1 L540.3 101.6 L540.7 101.6 L541.2 99.6 L541.6 99.3 L542.0 101.2 L542.4 101.5 L542.8 99.9 L543.2 99.7 L543.7 101.2 L544.1 101.1 L544.5 99.2 L544.9 98.9 L545.3 100.3 L545.7 100.3 L546.2 98.4 L546.6 98.1 L547.0 99.9 L547.4 100.2 L547.8 98.7 L548.2 98.5 L548.7 99.9 L549.1 99.9 L549.5 98.0 L549.9 97.7 L550.3 99.1 L550.7 99.0 L551.2 97.2 L551.6 97.0 L552.0 98.7 L552.4 99.0 L552.8 97.5 L553.3 97.3 L553.7 98.7 L554.1 98.6 L554.5 96.9 L554.9 96.5 L555.3 97.9 L555.8 97.8 L556.2 96.1 L556.6 95.9 L557.0 97.5 L557.4 97.7 L557.8 96.4 L558.3 96.2 L558.7 97.5 L559.1 97.4 L559.5 95.8 L559.9 95.4 L560.3 96.7 L560.8 96.7 L561.2 95.0 L561.6 94.8 L562.0 96.3 L562.4 96.6 L562.8 95.3 L563.3 95.1 L563.7 96.3 L564.1 96.3 L564.5 94.7 L564.9 94.4 L565.4 95.6 L565.8 95.5 L566.2 94.0 L566.6 93.8 L567.0 95.2 L567.4 95.4 L567.9 94.2 L568.3 94.0 L568.7 95.2 L569.1 95.1 L569.5 93.6 L569.9 93.4 L570.4 94.5 L570.8 94.4 L571.2 93.0 L571.6 92.8 L572.0 94.1 L572.4 94.4 L572.9 93.2 L573.3 93.0 L573.7 94.1 L574.1 94.0 L574.5 92.6 L574.9 92.4 L575.4 93.4 L575.8 93.4 L576.2 92.0 L576.6 91.8 L577.0 93.1 L577.5 93.3 L577.9 92.2 L578.3 92.0 L578.7 93.1 L579.1 93.0 L579.5 91.6 L580.0 91.4 L580.4 92.4 L580.8 92.4 L581.2 91.0 L581.6 90.8 L582.0 92.1 L582.5 92.3 L582.9 91.2 L583.3 91.0 L583.7 92.0 L584.1 92.0 L584.5 90.7 L585.0 90.4 L585.4 91.4 L585.8 91.4 L586.2 90.1 L586.6 89.9 L587.0 91.1 L587.5 91.3 L587.9 90.3 L588.3 90.1 L588.7 91.1 L589.1 91.0 L589.6 89.8 L590.0 89.5 L590.4 90.5 L590.8 90.4 L591.2 89.2 L591.6 89.0 L592.1 90.2 L592.5 90.3 L592.9 89.4 L593.3 89.2 L593.7 90.1 L594.1 90.0 L594.6 88.9 L595.0 88.7 L595.4 89.5 L595.8 89.5 L596.2 88.4 L596.6 88.2 L597.1 89.2 L597.5 89.4 L597.9 88.5 L598.3 88.3 L598.7 89.2 L599.1 89.1 L599.6 88.0 L600.0 87.8 L600.4 88.6 L600.8 88.6 L601.2 87.5 L601.7 87.4 L602.1 88.3 L602.5 88.5 L602.9 87.6 L603.3 87.5 L603.7 88.3 L604.2 88.2 L604.6 87.2 L605.0 87.0 L605.4 87.8 L605.8 87.7 L606.2 86.7 L606.7 86.6 L607.1 87.5 L607.5 87.6 L607.9 86.8 L608.3 86.7 L608.7 87.4 L609.2 87.3 L609.6 86.4 L610.0 86.2 L610.4 86.9 L610.8 86.9 L611.2 85.9 L611.7 85.8 L612.1 86.6 L612.5 86.7 L612.9 86.0 L613.3 85.9 L613.8 86.5 L614.2 86.5 L614.6 85.6 L615.0 85.4 L615.4 86.1 L615.8 86.0 L616.3 85.2 L616.7 85.0 L617.1 85.8 L617.5 85.9 L617.9 85.2 L618.3 85.1 L618.8 85.7 L619.2 85.7 L619.6 84.8 L620.0 84.7 L620.4 85.3 L620.8 85.2 L621.3 84.4 L621.7 84.3 L622.1 85.0 L622.5 85.1 L622.9 84.5 L623.4 84.4 L623.8 84.9 L624.2 84.9 L624.6 84.1 L625.0 84.0 L625.4 84.5 L625.9 84.5 L626.3 83.7 L626.7 83.6 L627.1 84.2 L627.5 84.3 L627.9 83.7 L628.4 83.6 L628.8 84.1 L629.2 84.1 L629.6 83.4 L630.0 83.2 L630.4 83.8 L630.9 83.7 L631.3 83.0 L631.7 82.9 L632.1 83.5 L632.5 83.6 L632.9 83.0 L633.4 82.9 L633.8 83.4 L634.2 83.4 L634.6 82.7 L635.0 82.5 L635.5 83.0 L635.9 83.0 L636.3 82.3 L636.7 82.2 L637.1 82.8 L637.5 82.9 L638.0 82.3 L638.4 82.2 L638.8 82.7 L639.2 82.7 L639.6 82.0 L640.0 81.9 L640.5 82.3 L640.9 82.3 L641.3 81.6 L641.7 81.5 L642.1 82.1 L642.5 82.2 L643.0 81.6 L643.4 81.6 L643.8 82.0 L644.2 82.0 L644.6 81.3 L645.0 81.2 L645.5 81.7 L645.9 81.6 L646.3 81.0 L646.7 80.9 L647.1 81.4 L647.6 81.5 L648.0 81.0 L648.4 80.9 L648.8 81.4 L649.2 81.3 L649.6 80.7 L650.1 80.5 L650.5 81.0 L650.9 81.0 L651.3 80.3 L651.7 80.2 L652.1 80.8 L652.6 80.9 L653.0 80.3 L653.4 80.3 L653.8 80.7 L654.2 80.7 L654.6 80.1 L655.1 79.9 L655.5 80.4 L655.9 80.3 L656.3 79.7 L656.7 79.6 L657.1 80.2 L657.6 80.2 L658.0 79.7 L658.4 79.6 L658.8 80.1 L659.2 80.0 L659.7 79.4 L660.1 79.3 L660.5 79.7 L660.9 79.7 L661.3 79.1 L661.7 79.0 L662.2 79.5 L662.6 79.6 L663.0 79.1 L663.4 79.0 L663.8 79.5 L664.2 79.4 L664.7 78.8 L665.1 78.7 L665.5 79.1 L665.9 79.1 L666.3 78.5 L666.7 78.4 L667.2 78.9 L667.6 79.0 L668.0 78.5 L668.4 78.5 L668.8 78.9 L669.2 78.8 L669.7 78.3 L670.1 78.2 L670.5 78.6 L670.9 78.5 L671.3 78.0 L671.8 77.9 L672.2 78.4 L672.6 78.4 L673.0 78.0 L673.4 77.9 L673.8 78.3 L674.3 78.2 L674.7 77.7 L675.1 77.6 L675.5 78.0 L675.9 77.9 L676.3 77.4 L676.8 77.3 L677.2 77.8 L677.6 77.9 L678.0 77.4 L678.4 77.3 L678.8 77.7 L679.3 77.7 L679.7 77.2 L680.1 77.0 L680.5 77.4 L680.9 77.4 L681.3 76.9 L681.8 76.8 L682.2 77.2 L682.6 77.3 L683.0 76.9 L683.4 76.8 L683.9 77.2 L684.3 77.1 L684.7 76.6 L685.1 76.5 L685.5 76.9 L685.9 76.9 L686.4 76.3 L686.8 76.3 L687.2 76.7 L687.6 76.8 L688.0 76.4 L688.4 76.3 L688.9 76.6 L689.3 76.6 L689.7 76.1 L690.1 76.0 L690.5 76.4 L690.9 76.3 L691.4 75.8 L691.8 75.8 L692.2 76.2 L692.6 76.2 L693.0 75.9 L693.4 75.8 L693.9 76.1 L694.3 76.1 L694.7 75.6" fill="none" stroke="#156082" stroke-width="4.3" stroke-linejoin="round" stroke-miterlimit="1.9" stroke-linecap="round"/>
<line x1="496" y1="307.4" x2="540.3" y2="307.4" stroke="#196B24" stroke-width="3.7" stroke-linecap="round"/>
<text class="t" x="545.8" y="317.0" textLength="95.5" lengthAdjust="spacingAndGlyphs">10 rpm</text>
<line x1="496" y1="361.9" x2="540.3" y2="361.9" stroke="#E97132" stroke-width="3.7" stroke-linecap="round"/>
<text class="t" x="545.8" y="371.5" textLength="95.5" lengthAdjust="spacingAndGlyphs">20 rpm</text>
<line x1="496" y1="417.4" x2="540.3" y2="417.4" stroke="#156082" stroke-width="3.7" stroke-linecap="round"/>
<text class="t" x="545.8" y="427.0" textLength="95.5" lengthAdjust="spacingAndGlyphs">30 rpm</text>
<text class="t" x="163.5" y="70.3" text-anchor="end">1</text>
<text class="t" x="163.5" y="156.2" text-anchor="end">0.8</text>
<text class="t" x="163.5" y="244.9" text-anchor="end">0.6</text>
<text class="t" x="163.5" y="332.8" text-anchor="end">0.4</text>
<text class="t" x="163.5" y="419.9" text-anchor="end">0.2</text>
<text class="t" x="163.5" y="507.8" text-anchor="end">0</text>
<text class="t" x="193.4" y="550.8" text-anchor="middle">0</text>
<text class="t" x="318.6" y="550.8" text-anchor="middle">150</text>
<text class="t" x="443.8" y="550.8" text-anchor="middle">300</text>
<text class="t" x="568.9" y="550.8" text-anchor="middle">450</text>
<text class="t" x="694.1" y="550.8" text-anchor="middle">600</text>
<text class="t" x="344.60" y="591" textLength="157.40" lengthAdjust="spacingAndGlyphs">Mischdauer</text>
<text class="t" x="511.80" y="591" textLength="34.38" lengthAdjust="spacingAndGlyphs">[s]</text>
<g transform="translate(96.8 420.4) rotate(-90)">
<text class="t" x="-1.93" y="0" textLength="81.86" lengthAdjust="spacingAndGlyphs">Lacey</text>
<text class="t" x="84.98" y="0" textLength="89.03" lengthAdjust="spacingAndGlyphs">Mixing</text>
<text class="t" x="178.16" y="0" textLength="74.72" lengthAdjust="spacingAndGlyphs">Index</text>
<text class="t" x="261.60" y="0" textLength="21.64" lengthAdjust="spacingAndGlyphs">[-]</text>
</g>
</svg>
</body>
</html>
